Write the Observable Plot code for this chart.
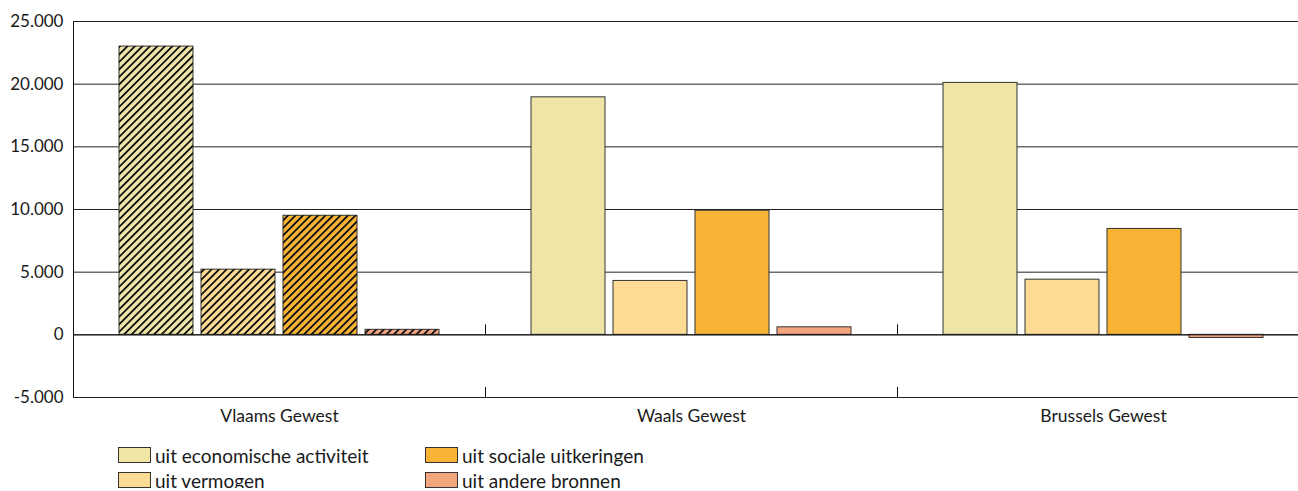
<!DOCTYPE html>
<html>
<head>
<meta charset="utf-8">
<script src="https://cdn.jsdelivr.net/npm/d3@7"></script>
<script src="https://cdn.jsdelivr.net/npm/@observablehq/plot@0.6"></script>
<style>
  body { margin: 0; background: #fff; font-family: Lato, "Noto Sans", sans-serif; color: #1a1a1a; }
  #legend { display: grid; grid-template-columns: 307px auto; row-gap: 9px; padding: 15px 0 0 118px; font-size: 19px; }
  .item { display: flex; align-items: center; height: 16px; }
  .sw { width: 31px; height: 14px; border: 1px solid #333; margin-right: 4px; box-sizing: content-box; }
</style>
</head>
<body>
<div id="chart"></div>
<div id="legend"></div>
<script>
const regions = ["Vlaams Gewest", "Waals Gewest", "Brussels Gewest"];
const series = ["uit economische activiteit", "uit vermogen", "uit sociale uitkeringen", "uit andere bronnen"];
const colors = ["#EEE5A7", "#FDDB92", "#F7B334", "#F3A57E"];
const vlaams = [23000, 5200, 9500, 400];
const waals = [18950, 4300, 9900, 600];
const brussels = [20100, 4400, 8450, -250];
const yTicks = [-5000, 0, 5000, 10000, 15000, 20000, 25000];
const hatchedRegion = "Vlaams Gewest";

const valuesByRegion = [vlaams, waals, brussels];
const data = [];
regions.forEach((r, i) => series.forEach((s, j) => data.push({region: r, series: s, value: valuesByRegion[i][j]})));

const fmt = d3.formatLocale({decimal: ",", thousands: ".", grouping: [3], currency: ["€", ""], minus: "-"}).format(",d");

let facetCounter = 0;
const dividers = (index, scales, values, dims) => {
  const k = facetCounter++;
  const g = d3.create("svg:g").attr("stroke", "#111").attr("stroke-width", 1);
  const x0 = dims.marginLeft + 0.5;
  const y0 = scales.y(0), yb = scales.y(yTicks[0]), yt = scales.y(yTicks[yTicks.length - 1]);
  if (k % regions.length === 0) {
    g.append("line").attr("x1", x0).attr("x2", x0).attr("y1", yt).attr("y2", yb);
  } else {
    g.append("line").attr("x1", x0).attr("x2", x0).attr("y1", y0 - 10).attr("y2", y0);
    g.append("line").attr("x1", x0).attr("x2", x0).attr("y1", yb - 10).attr("y2", yb);
  }
  return g.node();
};

const svg = Plot.plot({
  width: 1298,
  height: 432,
  marginLeft: 73,
  marginRight: 0,
  marginTop: 21,
  marginBottom: 35,
  style: {fontFamily: "Lato, 'Noto Sans', sans-serif", fontSize: "16px", color: "#1a1a1a", background: "#fff"},
  fx: {domain: regions, range: [73, 1309], padding: 0, label: null},
  x: {domain: series, paddingInner: 0.1, paddingOuter: 0.55, axis: null},
  y: {domain: [yTicks[0], yTicks[yTicks.length - 1]], axis: null},
  color: {domain: series, range: colors},
  marks: [
    Plot.gridY(yTicks, {stroke: "#222", strokeOpacity: 1}),
    Plot.barY(data, {fx: "region", x: "series", y: "value", fill: "series", stroke: "#333", strokeWidth: 1}),
    Plot.barY(data.filter(d => d.region === hatchedRegion), {fx: "region", x: "series", y: "value", fill: "url(#hatch)"}),
    Plot.ruleY([0], {stroke: "#111"}),
    dividers,
    Plot.axisY(yTicks, {tickSize: 0, tickPadding: 10, tickFormat: fmt, fontSize: 17, label: null}),
    Plot.axisFx({tickSize: 0, tickPadding: 12, fontSize: 17.5, label: null, anchor: "bottom"})
  ]
});

const defs = d3.select(svg).insert("defs", ":first-child");
const pat = defs.append("pattern").attr("id", "hatch").attr("patternUnits", "userSpaceOnUse")
  .attr("width", 5.3).attr("height", 5.3).attr("patternTransform", "rotate(45)");
pat.append("rect").attr("x", 0).attr("y", 0).attr("width", 1.8).attr("height", 5.3).attr("fill", "#111");

document.getElementById("chart").appendChild(svg);

const legendOrder = [0, 2, 1, 3];
const legend = d3.select("#legend");
legendOrder.forEach(i => {
  const it = legend.append("div").attr("class", "item");
  it.append("div").attr("class", "sw").style("background", colors[i]);
  it.append("span").text(series[i]);
});
</script>
</body>
</html>
